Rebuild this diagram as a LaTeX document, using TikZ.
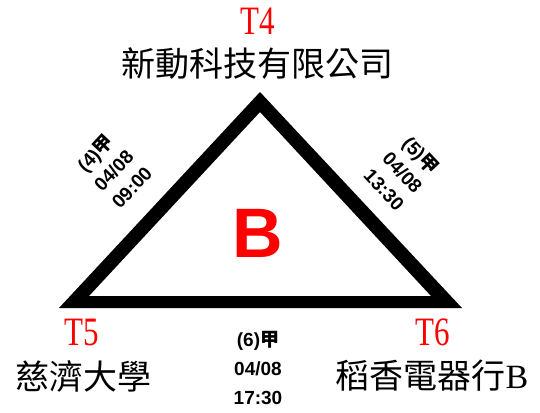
\documentclass[tikz,border=0pt]{standalone}
\usepackage{fontspec}
\setmainfont{Liberation Serif}
\newfontfamily\cjk{Noto Sans CJK TC}
\newfontfamily\arialf{Liberation Sans}
\begin{document}
\begin{tikzpicture}[x=1pt,y=-1pt,
  tlabel/.style={inner sep=0pt, text=red, font=\fontsize{31}{31}\selectfont},
  cname/.style={inner sep=0pt, font=\cjk\fontsize{34}{34}\selectfont},
  elabel/.style={inner sep=0pt, align=center, font=\arialf\bfseries\fontsize{19}{25}\selectfont},
  blabel/.style={inner sep=0pt, align=center, font=\arialf\bfseries\fontsize{19}{29}\selectfont}]
\useasboundingbox (0,0) rectangle (540,412);
% triangle
\coordinate (A) at (260,92);
\coordinate (L) at (59,308);
\coordinate (R) at (462,308);
\coordinate (Ai) at (260,112);
\coordinate (Li) at (89,296);
\coordinate (Ri) at (431,296);
\fill[black, even odd rule] (A) -- (L) -- (R) -- cycle (Ai) -- (Li) -- (Ri) -- cycle;
% vertex labels
\node[tlabel] (t4) at (258,21.5) {\scalebox{1}[1.3]{T4}};
\node[cname] (n4) at (257,64) {新動科技有限公司};
\node[tlabel] (t5) at (82,332) {\scalebox{1}[1.3]{T5}};
\node[cname] (n5) at (83,376) {慈濟大學};
\node[tlabel] (t6) at (433,332) {\scalebox{1}[1.3]{T6}};
\node[cname] (n6) at (432,376) {稻香電器行{\rmfamily B}};
% center letter
\node[inner sep=0pt, text=red, font=\arialf\bfseries\fontsize{70}{70}\selectfont] (bb) at (258,233) {B};
% edge labels
\node[elabel, rotate=47] (e4) at (113,170) {(4){\cjk 甲}\\04/08\\09:00};
\node[elabel, rotate=-47] (e5) at (403,172) {(5){\cjk 甲}\\04/08\\13:30};
\node[blabel] (e6) at (258,368) {(6){\cjk 甲}\\04/08\\17:30};
\end{tikzpicture}
\end{document}
